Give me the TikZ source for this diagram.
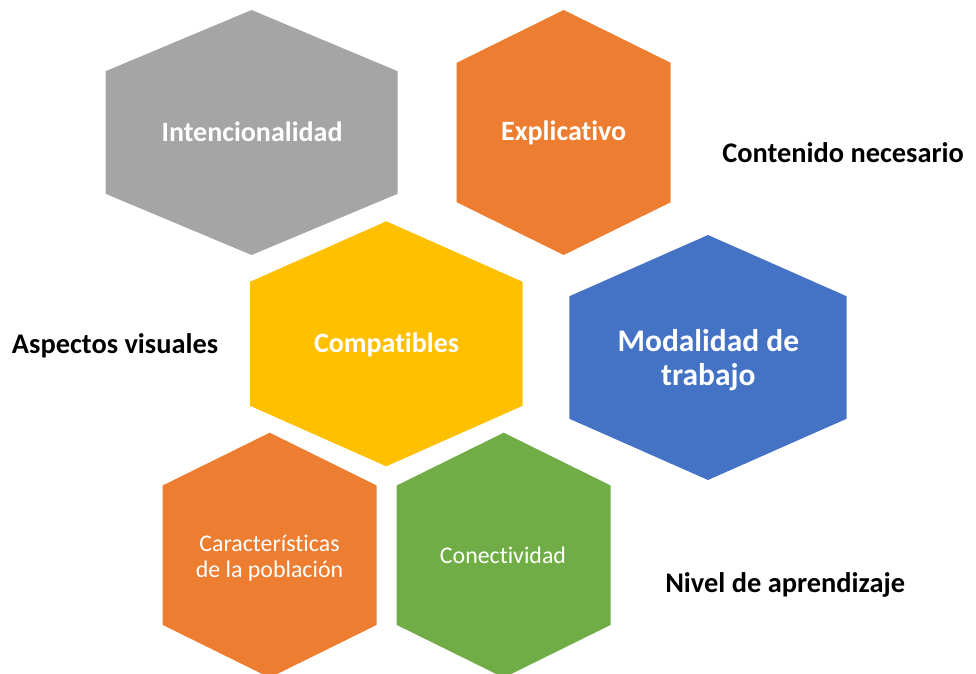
\documentclass[tikz,border=0pt]{standalone}
\usepackage{fontspec}
\setmainfont[Ligatures=NoCommon]{Carlito}
\definecolor{hexgray}{HTML}{A5A5A5}
\definecolor{hexorange}{HTML}{ED7D31}
\definecolor{hexyellow}{HTML}{FFC000}
\definecolor{hexblue}{HTML}{4472C4}
\definecolor{hexgreen}{HTML}{70AD47}
\tikzset{
  hexlabel/.style={text=white, font=\bfseries\fontsize{21}{25}\selectfont, anchor=base, inner sep=0pt},
  biglabel/.style={text=white, font=\bfseries\fontsize{23.6}{25.7}\selectfont, align=center, inner sep=0pt},
  smalllabel/.style={text=white, font=\fontsize{17.9}{19.5}\selectfont, align=center, inner sep=0pt},
  sidelabel/.style={text=black, font=\bfseries\fontsize{21.3}{25}\selectfont, anchor=base west, inner sep=0pt}
}
\begin{document}
\begin{tikzpicture}[x=0.75pt,y=-0.75pt]
   \clip (0,0) rectangle (976,674);
   % hexagons
   \foreach \cx/\cy/\hw/\co/\col in {251.6/132.5/146/61.3/hexgray, 563.7/132.5/107/69.7/hexorange,
      386.3/343.8/136.3/62/hexyellow, 708/357.5/138.7/61.2/hexblue,
      269.7/555.2/107/69.7/hexorange, 503.7/555.2/107/69.7/hexgreen}
      \fill[fill=\col] (\cx,\cy-122.5) -- (\cx+\hw,\cy-\co) -- (\cx+\hw,\cy+\co) -- (\cx,\cy+122.5)
         -- (\cx-\hw,\cy+\co) -- (\cx-\hw,\cy-\co) -- cycle;
   % labels in the hexagons
   \node[hexlabel] (intenc) at (252,141.5) {Intencionalidad};
   \node[hexlabel] (explic) at (563.7,140.7) {Explicativo};
   \node[hexlabel] (compat) at (386.5,352.7) {Compatibles};
   \node[biglabel] (modal) at (708.3,360) {Modalidad de\\trabajo};
   \node[smalllabel] (caract) at (269.5,558.5) {Características\\de la población};
   \node[hexlabel, font=\fontsize{17.9}{19.5}\selectfont] (conect) at (503,563.3) {Conectividad};
   % labels outside
   \node[sidelabel] (conten) at (722,163) {Contenido necesario};
   \node[sidelabel] (aspect) at (11.7,353) {Aspectos visuales};
   \node[sidelabel] (nivel) at (665,592) {Nivel de aprendizaje};
\end{tikzpicture}
\end{document}
